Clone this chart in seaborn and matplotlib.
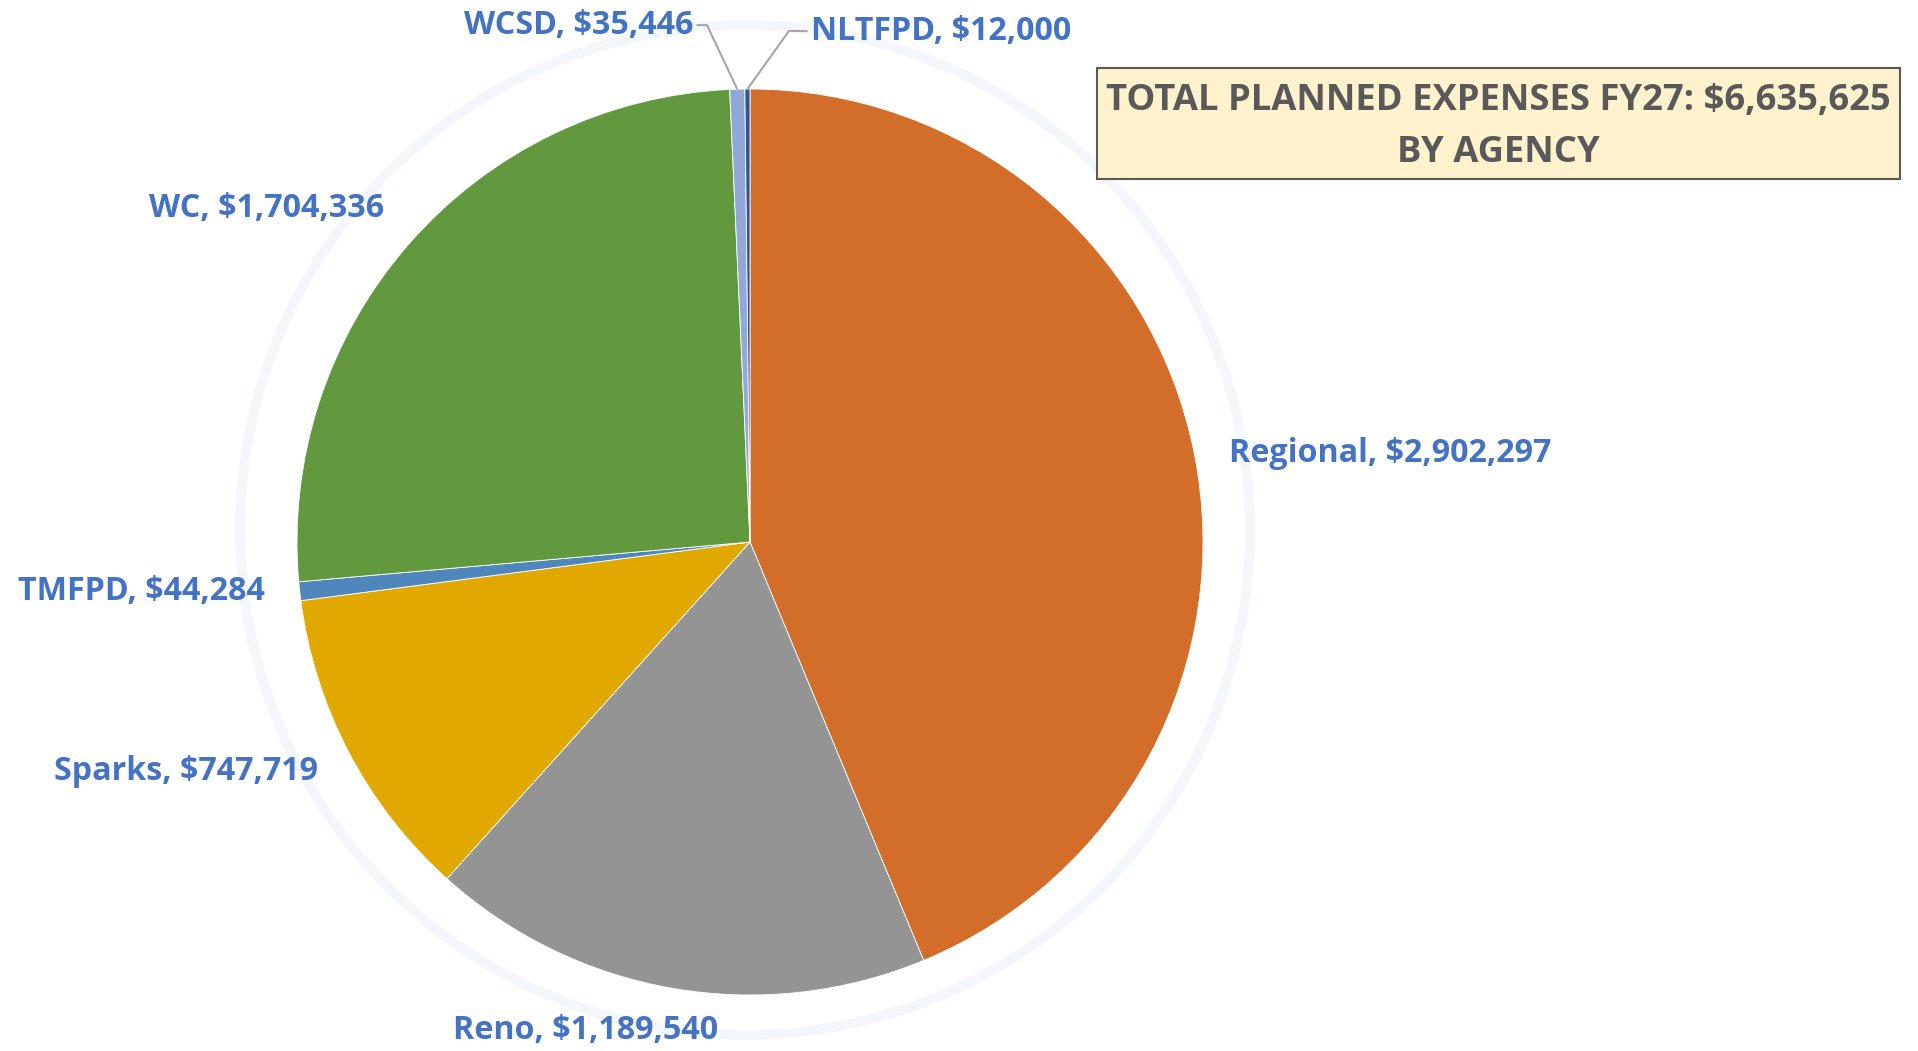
import matplotlib
matplotlib.use("Agg")
import matplotlib.pyplot as plt
import seaborn as sns
import numpy as np
from matplotlib.patches import Rectangle, Circle

sns.set_style("white")
plt.rcParams['font.family'] = ['Open Sans', 'DejaVu Sans']

agencies = ["Regional", "Reno", "Sparks", "TMFPD", "WC", "WCSD", "NLTFPD"]
expenses = [2902297, 1189540, 747719, 44284, 1704336, 35446, 12000]
colors = ["#D36E2A", "#949494", "#E1A900", "#4F87BC", "#62993E", "#91A8D8", "#2F5597"]
title_lines = ["TOTAL PLANNED EXPENSES FY27: $6,635,625", "BY AGENCY"]

# label layout (data units, pie radius = 1)
label_pos = {
    "Regional": (1.057, 0.196, "left"),
    "Reno": (-0.362, -1.079, "center"),
    "Sparks": (-1.245, -0.506, "center"),
    "TMFPD": (-1.344, -0.110, "center"),
    "WC": (-1.068, 0.737, "center"),
    "WCSD": (-0.126, 1.141, "right"),
    "NLTFPD": (0.135, 1.128, "left"),
}
elbows = {"WCSD": (-0.095, -0.118), "NLTFPD": (0.086, 0.127)}

W, H = 1918, 1051
fig = plt.figure(figsize=(W / 100, H / 100), dpi=100)
ax = fig.add_axes([0, 0, 1, 1])
cx, cy, R = 750, 542, 453

# faint ring behind
ring = Circle(((745 - cx) / R, (cy - 530) / R), 505 / R, fill=False,
              edgecolor="#F3F6FA", linewidth=7, zorder=0)
ax.add_patch(ring)

wedges, _ = ax.pie(expenses, colors=colors, startangle=90, counterclock=False,
                   radius=1, center=(0, 0), frame=True,
                   wedgeprops=dict(edgecolor="white", linewidth=0.6))
ax.set_xlim(-cx / R, (W - cx) / R)
ax.set_ylim((cy - H) / R, cy / R)
ax.set_aspect("equal")
ax.axis("off")

label_color = "#4472C4"
for name, val, w in zip(agencies, expenses, wedges):
    x, y, ha = label_pos[name]
    ax.text(x, y, f"{name}, ${val:,}", ha=ha, va="center", fontsize=23.2,
            fontweight="bold", color=label_color)
    if name in elbows:
        ang = np.deg2rad((w.theta1 + w.theta2) / 2)
        ex, ey = np.cos(ang), np.sin(ang)
        bx, tx = elbows[name]
        ax.plot([ex, bx, tx], [ey, y, y], color="#A6A6A6", linewidth=1.5,
                solid_capstyle="butt", zorder=3)

# title box
fig.patches.append(Rectangle((1097 / W, 1 - 179 / H), 803 / W, 111 / H,
                             transform=fig.transFigure, facecolor="#FFF2CC",
                             edgecolor="#595959", linewidth=1.5))
fig.text(1498 / W, 1 - 101 / H, title_lines[0], ha="center", va="center",
         fontsize=26.2, fontweight="bold", color="#595959")
fig.text(1498 / W, 1 - 153 / H, title_lines[1], ha="center", va="center",
         fontsize=26.2, fontweight="bold", color="#595959")

fig.savefig("out.png", dpi=100, facecolor="white")
